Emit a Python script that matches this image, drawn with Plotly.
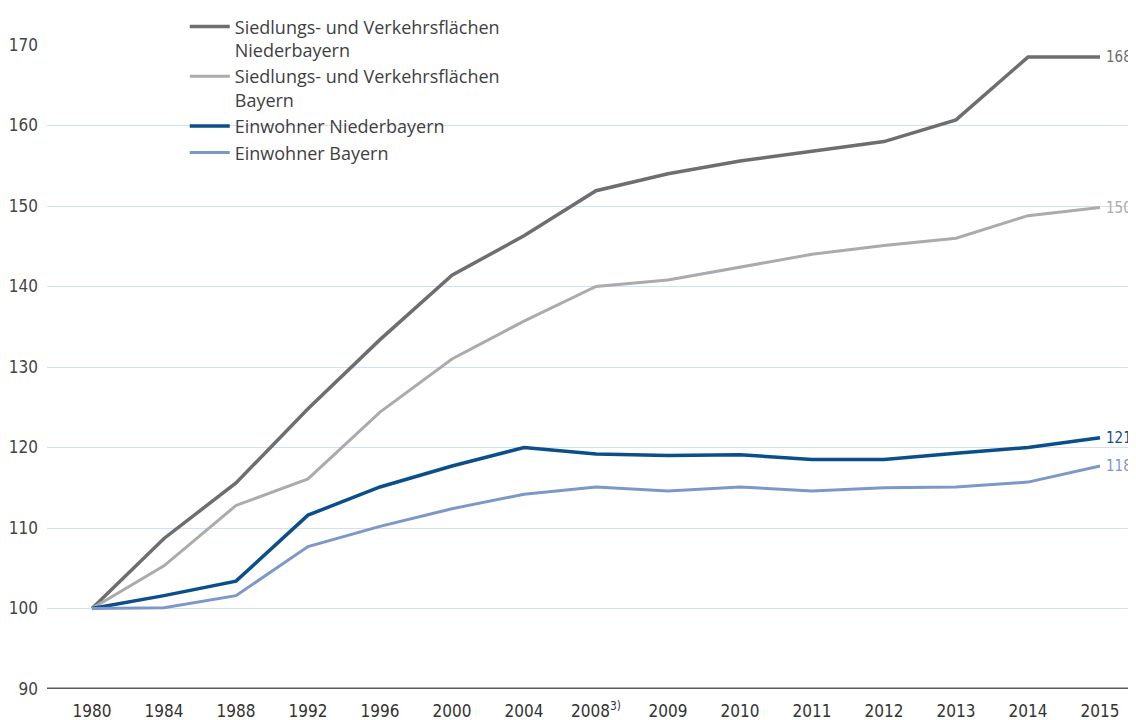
import plotly.graph_objects as go

years = ["1980", "1984", "1988", "1992", "1996", "2000", "2004", "2008<sup>3)</sup>",
         "2009", "2010", "2011", "2012", "2013", "2014", "2015"]
suv_ndb = [100, 108.7, 115.6, 124.8, 133.4, 141.4, 146.3, 151.9, 154.0, 155.6, 156.8, 158.0, 160.7, 168.5, 168.5]
suv_by = [100, 105.3, 112.8, 116.1, 124.4, 131.0, 135.7, 140.0, 140.8, 142.4, 144.0, 145.1, 146.0, 148.8, 149.8]
ew_ndb = [100, 101.6, 103.4, 111.6, 115.1, 117.7, 120.0, 119.2, 119.0, 119.1, 118.5, 118.5, 119.3, 120.0, 121.2]
ew_by = [100, 100.1, 101.6, 107.7, 110.2, 112.4, 114.2, 115.1, 114.6, 115.1, 114.6, 115.0, 115.1, 115.7, 117.7]
end_labels = ["168", "150", "121", "118"]

names = ["Siedlungs- und Verkehrsflächen<br>Niederbayern",
         "Siedlungs- und Verkehrsflächen<br>Bayern",
         "Einwohner Niederbayern",
         "Einwohner Bayern"]
colors = ["#6e6e6e", "#ababab", "#0b4f8a", "#7b98c9"]
widths = [3.5, 3, 3.5, 3]
series = [suv_ndb, suv_by, ew_ndb, ew_by]

NARROW = "Liberation Sans Narrow, DejaVu Sans Condensed, Roboto Condensed, Arial Narrow, sans-serif"

xi = list(range(len(years)))
fig = go.Figure()
for i, (s, n, c, w) in enumerate(zip(series, names, colors, widths)):
    fig.add_trace(go.Scatter(x=xi, y=s, mode="lines", name=n, legendgroup=f"g{i}",
                             line=dict(color=c, width=w), showlegend=True))

for s, lab, c in zip(series, end_labels, colors):
    fig.add_annotation(x=xi[-1], y=s[-1], xref="x", yref="y", text=lab,
                       showarrow=False, xanchor="left", xshift=4,
                       font=dict(color=c, size=15, family=NARROW))

# the page body has an 8px margin; figure is sized to fill the rest of the window
fig.update_layout(
    width=1128, height=712,
    margin=dict(l=39, r=0, t=37, b=31, autoexpand=False),
    paper_bgcolor="white", plot_bgcolor="white",
    font=dict(family=NARROW, size=16, color="#3a3a3a"),
    xaxis=dict(tickmode="array", tickvals=xi, ticktext=years, range=[-0.625, 14.5],
               showgrid=False, zeroline=False, showline=False, ticks="", automargin=False,
               tickfont=dict(size=17, color="#333333"), ticklabelstandoff=10),
    yaxis=dict(range=[90, 170], tickvals=list(range(90, 171, 10)), showgrid=True,
               gridcolor="#d3e0f0", gridwidth=1.2, zeroline=False, showline=False, ticks="",
               automargin=False, tickfont=dict(size=17, color="#444444"), ticklabelstandoff=8),
    legend=dict(x=0.1265, y=1.057, xanchor="left", yanchor="top", valign="top",
                bgcolor="rgba(255,255,255,0)", font=dict(family="Open Sans, sans-serif", size=18, color="#3f3f3f"),
                traceorder="grouped", tracegroupgap=0, itemwidth=40),
    showlegend=True,
)
fig.add_shape(type="line", xref="paper", yref="y", x0=0, x1=1, y0=90, y1=90,
              line=dict(color="#5a5a5a", width=3))

fig.write_html("out.html")
